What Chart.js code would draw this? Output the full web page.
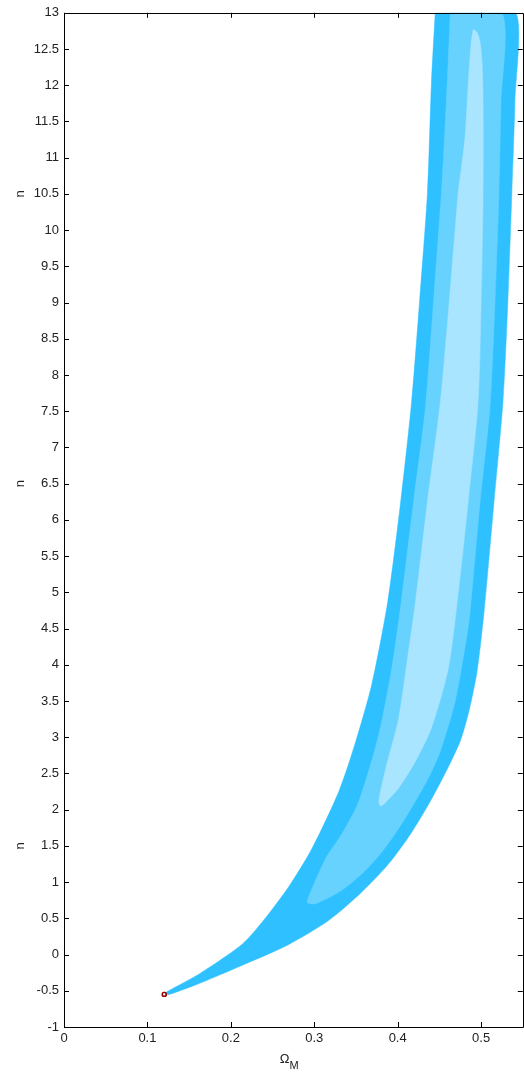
<!DOCTYPE html>
<html><head><meta charset="utf-8">
<script src="https://cdn.jsdelivr.net/npm/chart.js@4.4.1/dist/chart.umd.min.js"></script>
<style>html,body{margin:0;padding:0;overflow:hidden;background:#fff;width:524px;height:1077px}canvas{display:block}</style>
</head><body>
<canvas id="c" width="528" height="1077"></canvas>
<script>
// ---- tick labels ----
const X_TICKS = [0, 0.1, 0.2, 0.3, 0.4, 0.5];
const X_TICK_LABELS = ['0', '0.1', '0.2', '0.3', '0.4', '0.5'];
const Y_TICKS = [-1, -0.5, 0, 0.5, 1, 1.5, 2, 2.5, 3, 3.5, 4, 4.5, 5, 5.5, 6, 6.5, 7, 7.5, 8, 8.5, 9, 9.5, 10, 10.5, 11, 11.5, 12, 12.5, 13];
const Y_TICK_LABELS = ['-1', '-0.5', '0', '0.5', '1', '1.5', '2', '2.5', '3', '3.5', '4', '4.5', '5', '5.5', '6', '6.5', '7', '7.5', '8', '8.5', '9', '9.5', '10', '10.5', '11', '11.5', '12', '12.5', '13'];
const Y_TITLE = 'n';
const Y_TITLE_AT = [10.5, 6.5, 1.5];
const X_TITLE = 'Ω';
const X_TITLE_SUB = 'M';

// ---- outer contour (largest region) ----
const outerX = [0.445, 0.4405, 0.4357, 0.4262, 0.4167, 0.4036, 0.3881, 0.3690, 0.3500, 0.3298, 0.2976, 0.2702, 0.2405, 0.2143, 0.1631, 0.1238, 0.1214,
                0.1262, 0.1619, 0.2214, 0.2690, 0.3167, 0.3548, 0.3881, 0.4155, 0.4393, 0.4595, 0.4750, 0.4857, 0.4952, 0.5036, 0.5155, 0.5262, 0.5321, 0.5369, 0.5405, 0.5417];
const outerY = [13.0, 12.04, 10.52, 9.01, 7.63, 6.25, 4.87, 3.73, 2.95, 2.26, 1.47, 0.95, 0.49, 0.15, -0.26, -0.51, -0.54,
                -0.55, -0.40, -0.11, 0.137, 0.467, 0.839, 1.238, 1.665, 2.120, 2.561, 2.947, 3.374, 3.911, 4.737, 6.25, 7.63, 9.01, 10.52, 11.76, 13.0];

// ---- middle contour ----
const midX = [0.4631, 0.4583, 0.4524, 0.4429, 0.4333, 0.4190, 0.4036, 0.3929, 0.3774, 0.3536, 0.3333, 0.3143, 0.2976, 0.2917,
              0.3012, 0.3321, 0.3583, 0.3821, 0.4024, 0.4214, 0.4381, 0.4512, 0.4690, 0.4833, 0.4869, 0.4988, 0.5107, 0.5167, 0.5214, 0.5238, 0.5250];
const midY = [13.0, 11.76, 10.52, 9.01, 7.56, 6.25, 4.81, 3.95, 3.04, 2.12, 1.67, 1.34, 0.92, 0.72,
              0.701, 0.880, 1.128, 1.431, 1.762, 2.120, 2.464, 2.808, 3.497, 4.420, 4.737, 6.25, 7.56, 9.01, 10.52, 11.76, 13.0];

// ---- inner contour ----
const innerX = [0.4905, 0.4881, 0.4845, 0.4810, 0.4762, 0.4726, 0.4619, 0.4512, 0.4357, 0.4214, 0.4131, 0.4012, 0.3857, 0.3774, 0.3798,
                0.3845, 0.4012, 0.4214, 0.4405, 0.4607, 0.4714, 0.4845, 0.4964, 0.5000, 0.5024, 0.5024, 0.5012, 0.4988, 0.4952];
const innerY = [12.77, 12.59, 12.00, 11.31, 10.84, 10.52, 9.01, 7.63, 6.25, 4.87, 4.19, 3.26, 2.57, 2.12, 2.05,
                2.09, 2.30, 2.67, 3.13, 3.95, 4.87, 6.25, 7.63, 9.01, 10.52, 11.76, 12.31, 12.59, 12.73];

// ---- best-fit marker ----
const bestX = [0.1202];
const bestY = [-0.55];

function pts(xs, ys) {
  const p = xs.map((x, i) => ({x: x, y: ys[i]}));
  p.push({x: xs[0], y: ys[0]});
  return p;
}

const FONT = '"Liberation Sans", Arial, sans-serif';

const decor = {
  id: 'decor',
  afterDraw(chart) {
    const {ctx, chartArea: a, scales: {x, y}} = chart;
    ctx.save();
    ctx.strokeStyle = '#000';
    ctx.lineWidth = 1;
    ctx.beginPath();
    ctx.moveTo(Math.round(a.left) + 0.5, Math.round(a.top) + 0.5);
    ctx.lineTo(Math.round(a.right) + 0.5, Math.round(a.top) + 0.5);
    ctx.lineTo(Math.round(a.right) + 0.5, Math.round(a.bottom) + 0.5);
    ctx.lineTo(Math.round(a.left) + 0.5, Math.round(a.bottom) + 0.5);
    ctx.closePath();
    ctx.stroke();
    const L = 5;
    ctx.beginPath();
    X_TICKS.forEach(v => {
      const px = Math.round(x.getPixelForValue(v)) + 0.5;
      ctx.moveTo(px, a.bottom); ctx.lineTo(px, a.bottom - L);
      ctx.moveTo(px, a.top); ctx.lineTo(px, a.top + L);
    });
    Y_TICKS.forEach(v => {
      const py = Math.round(y.getPixelForValue(v)) + 0.5;
      ctx.moveTo(a.left, py); ctx.lineTo(a.left + L, py);
      ctx.moveTo(a.right, py); ctx.lineTo(a.right - L, py);
    });
    ctx.stroke();
    ctx.fillStyle = '#222';
    ctx.font = '13px ' + FONT;
    ctx.textAlign = 'center';
    ctx.textBaseline = 'middle';
    Y_TITLE_AT.forEach(v => {
      ctx.save();
      ctx.translate(20, y.getPixelForValue(v));
      ctx.rotate(-Math.PI / 2);
      ctx.fillText(Y_TITLE, 0, 0);
      ctx.restore();
    });
    const cx = (a.left + a.right) / 2 - 4;
    ctx.textAlign = 'right';
    ctx.textBaseline = 'alphabetic';
    ctx.font = '13px ' + FONT;
    ctx.fillText(X_TITLE, cx, 1063);
    ctx.textAlign = 'left';
    ctx.font = '11px ' + FONT;
    ctx.fillText(X_TITLE_SUB, cx, 1069);
    ctx.restore();
  }
};

const area = (xs, ys, color, order) => ({
  data: pts(xs, ys), order: order, fill: 'shape', backgroundColor: color, borderColor: color,
  borderWidth: 0.5, pointRadius: 0, tension: 0.25, capBezierPoints: true
});

new Chart(document.getElementById('c'), {
  type: 'line',
  data: {
    datasets: [
      {data: pts(bestX, bestY), order: 0, showLine: false, pointRadius: 2, pointStyle: 'circle',
       pointBorderColor: '#a00000', pointBackgroundColor: 'rgba(0,0,0,0)', pointBorderWidth: 1.2, fill: false},
      area(innerX, innerY, 'rgb(170,229,255)', 1),
      area(midX, midY, 'rgb(104,210,255)', 2),
      area(outerX, outerY, 'rgb(46,192,255)', 3)
    ]
  },
  options: {
    responsive: false,
    animation: false,
    devicePixelRatio: 1,
    layout: {padding: {left: 0, right: 2, top: 10, bottom: 0}},
    plugins: {legend: {display: false}, tooltip: {enabled: false}},
    scales: {
      x: {
        type: 'linear', min: 0, max: 0.55,
        grid: {display: false, drawTicks: false},
        border: {display: false},
        afterBuildTicks: s => { s.ticks = X_TICKS.map(v => ({value: v})); },
        afterFit: s => { s.height = 50; },
        ticks: {padding: 4, color: '#222', font: {family: FONT, size: 13}, maxRotation: 0,
                callback: (v) => { const i = X_TICKS.findIndex(t => Math.abs(t - v) < 1e-9); return i >= 0 ? X_TICK_LABELS[i] : ''; }}
      },
      y: {
        type: 'linear', min: -1, max: 13,
        grid: {display: false, drawTicks: false},
        border: {display: false},
        afterBuildTicks: s => { s.ticks = Y_TICKS.map(v => ({value: v})); },
        afterFit: s => { s.width = 64; },
        ticks: {padding: 5, color: '#222', font: {family: FONT, size: 13},
                callback: (v) => { const i = Y_TICKS.findIndex(t => Math.abs(t - v) < 1e-9); return i >= 0 ? Y_TICK_LABELS[i] : ''; }}
      }
    }
  },
  plugins: [decor]
});
</script>
</body></html>
